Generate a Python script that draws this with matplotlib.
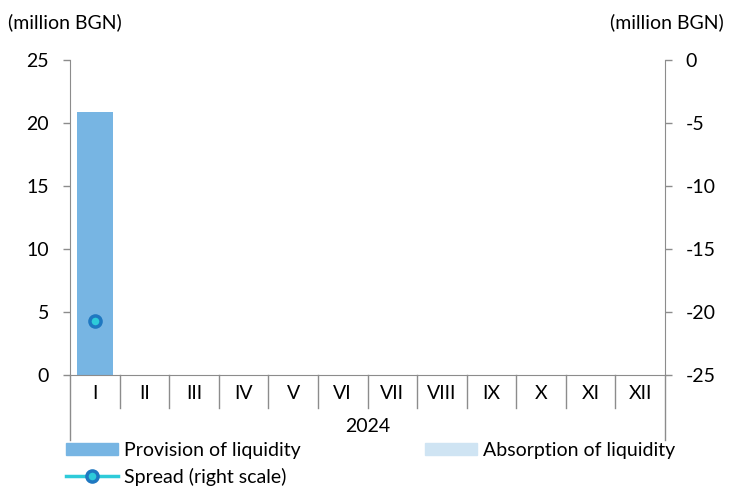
import matplotlib
matplotlib.use('Agg')
import numpy as np
import matplotlib.pyplot as plt
from matplotlib.lines import Line2D
from matplotlib.patches import Patch

plt.rcParams['font.family'] = ['Lato', 'DejaVu Sans']
plt.rcParams['axes.unicode_minus'] = False

months = ['I', 'II', 'III', 'IV', 'V', 'VI', 'VII', 'VIII', 'IX', 'X', 'XI', 'XII']
year_label = '2024'
provision = [20.9] + [np.nan] * 11
absorption = [np.nan] * 12
spread = [-20.7] + [np.nan] * 11

C_PROV = '#77b5e3'
C_ABS = '#cfe4f3'
C_LINE = '#2ecbd9'
C_MARK = '#1f78c1'
C_AX = '#8c8c8c'
FS = 14

fig = plt.figure(figsize=(7.29, 4.88), dpi=100)
ax = fig.add_axes([70 / 729, 1 - 375 / 488, 595 / 729, 315 / 488])
x = np.arange(len(months))
ax.bar(x, provision, width=0.72, color=C_PROV, zorder=2)
ax.bar(x, absorption, width=0.72, color=C_ABS, zorder=2)
ax.set_xlim(-0.5, len(months) - 0.5)
ax.set_ylim(0, 25)
ax.set_yticks(range(0, 26, 5))

ax2 = ax.twinx()
ax2.plot(x, spread, color=C_LINE, lw=2.5, marker='o', ms=8, mfc=C_LINE,
         mec=C_MARK, mew=2.5, zorder=3)
ax2.set_ylim(-25, 0)
ax2.set_yticks(range(-25, 1, 5))

for a in (ax, ax2):
    for s in a.spines.values():
        s.set_visible(False)
    a.tick_params(axis='y', colors=C_AX, labelcolor='black', labelsize=FS,
                  length=5, width=1, pad=10)
ax.spines['left'].set_visible(True)
ax.spines['left'].set_color(C_AX)
ax2.spines['right'].set_visible(True)
ax2.spines['right'].set_color(C_AX)
ax.spines['bottom'].set_visible(True)
ax.spines['bottom'].set_color(C_AX)

ax.set_xticks(x)
ax.set_xticklabels(months, fontsize=FS)
ax.tick_params(axis='x', length=0, pad=7)

# multi-level category axis
tr = ax.get_xaxis_transform()
for b in np.arange(0.5, len(months) - 1, 1.0):
    ax.plot([b, b], [0, -33 / 315], transform=tr, color=C_AX, lw=1, clip_on=False)
for b in (-0.5, len(months) - 0.5):
    ax.plot([b, b], [0, -65 / 315], transform=tr, color=C_AX, lw=1, clip_on=False)
ax.text(0.5, -51 / 315, year_label, transform=ax.transAxes, ha='center',
        va='center', fontsize=FS)

fig.text(8 / 729, 1 - 22 / 488, '(million BGN)', fontsize=FS, va='center', ha='left')
fig.text(724 / 729, 1 - 22 / 488, '(million BGN)', fontsize=FS, va='center', ha='right')

handles = [Patch(color=C_PROV), Line2D([], [], color=C_LINE, lw=2.5, marker='o', ms=8,
           mfc=C_LINE, mec=C_MARK, mew=2.5), Patch(color=C_ABS)]
labels = ['Provision of liquidity', 'Spread (right scale)', 'Absorption of liquidity']
fig.legend(handles, labels, ncol=2, loc='upper left', bbox_to_anchor=(66 / 729, 1 - 442 / 488),
           frameon=False, fontsize=FS, handlelength=2.67, handleheight=0.6,
           handletextpad=0.3, columnspacing=6.4, labelspacing=0.45, borderpad=0,
           borderaxespad=0)

fig.savefig('out.png', dpi=100)
